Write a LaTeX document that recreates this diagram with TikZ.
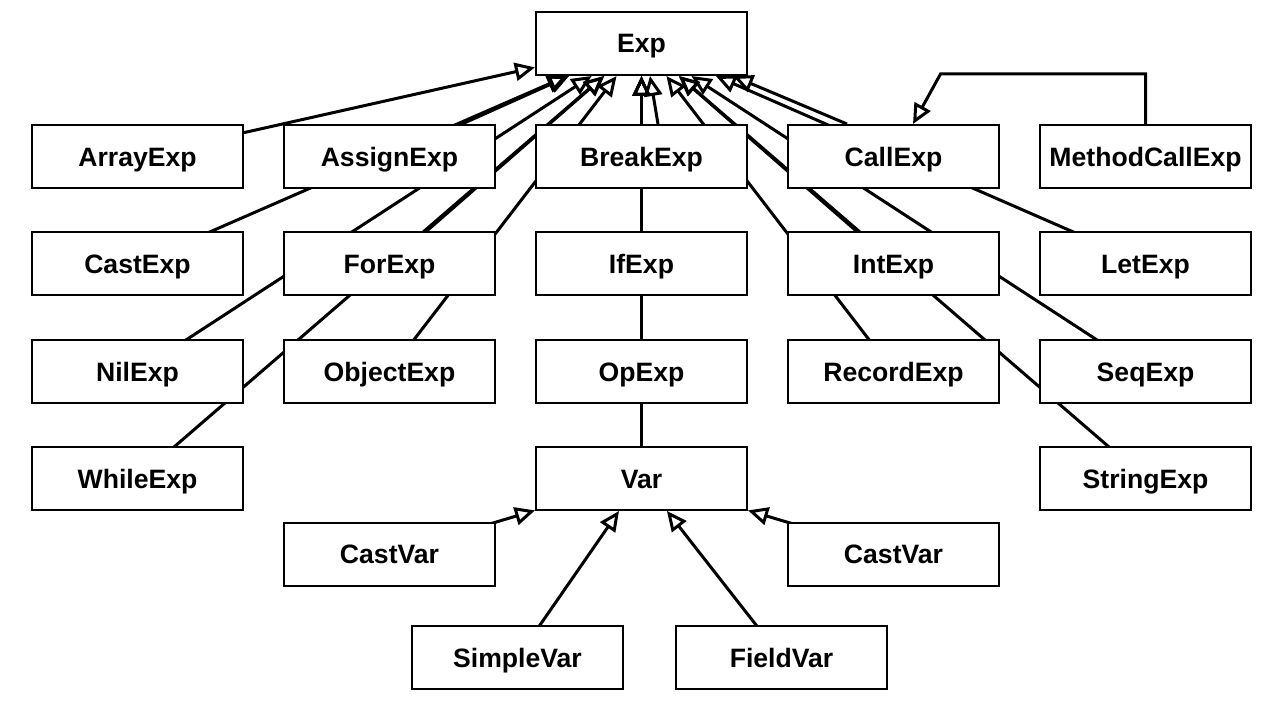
\documentclass[tikz,border=0pt]{standalone}
\usepackage{fontspec}
\setmainfont{Liberation Sans}
\usetikzlibrary{arrows.meta,backgrounds,calc}
\begin{document}
\begin{tikzpicture}[x=0.5pt,y=-0.5pt,
  box/.style={draw,line width=1pt,fill=white,minimum width=105.5pt,minimum height=31.5pt,inner sep=0pt,text height=9.5pt,text depth=0pt,font=\fontsize{13.3}{15}\selectfont\bfseries},
  link/.style={line width=1.5pt,-{Triangle[open,length=10pt,width=9pt]}}]
\useasboundingbox (0,0) rectangle (1272,717);
% top
\node[box] (exp) at (641.5,43.5) {Exp};
% row 1
\node[box] (nArr) at (137.5,156.5) {ArrayExp};
\node[box] (nAsg) at (389.5,156.5) {AssignExp};
\node[box] (nBrk) at (641.5,156.5) {BreakExp};
\node[box] (nCall) at (893.5,156.5) {CallExp};
\node[box] (nMce) at (1145.5,156.5) {MethodCallExp};
% row 2
\node[box] (nCast) at (137.5,263.5) {CastExp};
\node[box] (nFor) at (389.5,263.5) {ForExp};
\node[box] (nIf) at (641.5,263.5) {IfExp};
\node[box] (nInt) at (893.5,263.5) {IntExp};
\node[box] (nLet) at (1145.5,263.5) {LetExp};
% row 3
\node[box] (nNil) at (137.5,371.5) {NilExp};
\node[box] (nObj) at (389.5,371.5) {ObjectExp};
\node[box] (nOp) at (641.5,371.5) {OpExp};
\node[box] (nRec) at (893.5,371.5) {RecordExp};
\node[box] (nSeq) at (1145.5,371.5) {SeqExp};
% row 4
\node[box] (nWhile) at (137.5,478.5) {WhileExp};
\node[box] (nVar) at (641.5,478.5) {Var};
\node[box] (nStr) at (1145.5,478.5) {StringExp};
% vars
\node[box] (nCvl) at (389.5,554) {CastVar};
\node[box] (nCvr) at (893.5,554) {CastVar};
\node[box] (nSv) at (517.5,657.5) {SimpleVar};
\node[box] (nFv) at (781.5,657.5) {FieldVar};
% connectors
\begin{pgfonlayer}{background}
\fill[white] (0,0) rectangle (1272,717);
\foreach \n in {nArr,nAsg,nCast,nFor,nIf,nInt,nLet,nNil,nObj,nOp,nRec,nSeq,nWhile,nVar,nStr}
  \draw[link] (\n.center) -- (exp);
\draw[link] ($(nBrk.north)+(16.5,0)$) -- ($(exp.south)+(8.5,0)$);
\draw[link] ($(nCall.north)+(-46.5,0)$) -- ($(exp.south)+(91.5,0)$);
\coordinate (k1) at ($(nMce.north)+(0,-50)$);
\coordinate (k2) at ($(nCall.north)+(47,-50)$);
\draw[link] (nMce.north) -- (k1) -- (k2) -- ($(nCall.north)+(19.5,0)$);
\foreach \n in {nCvl,nCvr,nSv,nFv}
  \draw[link] (\n.center) -- (nVar);
\end{pgfonlayer}
\end{tikzpicture}
\end{document}
